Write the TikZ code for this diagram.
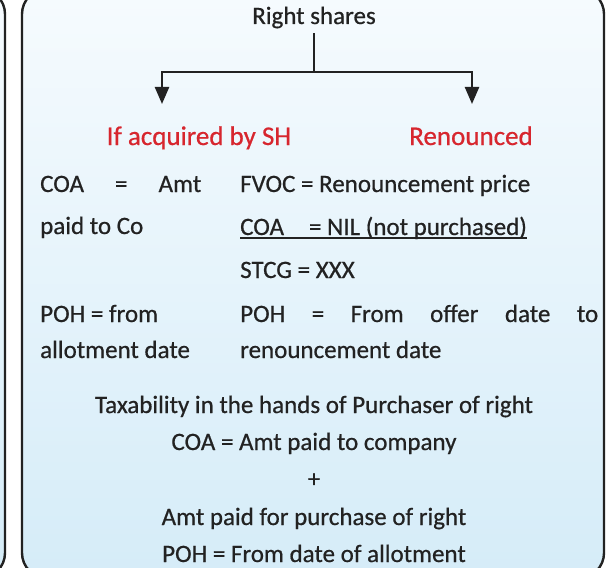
\documentclass[tikz,border=0pt]{standalone}
\usepackage{fontspec}
\setmainfont{Carlito}
\newfontfamily\chartfont{Carlito}[FakeBold=0.6]
\usepackage{xcolor}
\usepackage{tikz}
\usetikzlibrary{arrows.meta,positioning}
\definecolor{hdred}{HTML}{D7262E}
\definecolor{boxtop}{HTML}{F6FBFE}
\definecolor{boxbot}{HTML}{D5ECF8}
\definecolor{edge}{HTML}{222222}

\begin{document}
\begin{tikzpicture}[x=1pt,y=-1pt,
  txt/.style={inner sep=0pt, font=\chartfont\fontsize{25}{30}\selectfont, text=edge},
  head/.style={txt, text=hdred, font=\chartfont\fontsize{27}{30}\selectfont},
  panel/.style={draw=edge, line width=2.4pt, rounded corners=25pt, top color=boxtop, bottom color=boxbot},
  link/.style={draw=edge, line width=2.4pt}]

\useasboundingbox (0,0) rectangle (615,567);

\path[panel] (-140,-11) rectangle (5,578);
\path[panel] (22,-11) rectangle (604,578);

\node[txt, anchor=base, inner ysep=5pt] (rs) at (314,24) {Right shares};
\coordinate (fork) at (314,72);
\coordinate (tipA) at (162,104);
\coordinate (tipB) at (472,104);
\path[link] (rs) -- (fork);
\path[link] [-{Triangle[length=17pt,width=14pt]}] (fork) -| (tipA);
\path[link] [-{Triangle[length=17pt,width=14pt]}] (fork) -| (tipB);

\node[head, anchor=base] (acq) at (199,145) {If acquired by SH};
\node[head, anchor=base] (ren) at (471,145) {Renounced};

\node[txt, anchor=base west] (coaA) at (40,192) {\makebox[161pt][s]{COA = Amt}};
\node[txt, anchor=base west] (paid) at (40,234) {paid to Co};
\node[txt, anchor=base west] (pohA) at (40,322) {POH = from};
\node[txt, anchor=base west] (allot) at (40,358) {allotment date};

\node[txt, anchor=base west] (fvoc) at (240,192) {FVOC = Renouncement price};
\node[txt, anchor=base west] (nil) at (240,235) {COA\quad= NIL (not purchased)};
\path[draw=edge, line width=1.3pt] ([yshift=-3pt]nil.base west) -- ([yshift=-3pt]nil.base east);
\node[txt, anchor=base west] (stcg) at (240,278) {STCG = XXX};
\node[txt, anchor=base west] (pohB) at (240,322) {\makebox[358pt][s]{POH = From offer date to}};
\node[txt, anchor=base west] (renD) at (240,358) {renouncement date};

\node[txt, anchor=base] (tax) at (314,413) {Taxability in the hands of Purchaser of right};
\node[txt, anchor=base] (coaC) at (314,450) {COA = Amt paid to company};
\node[txt, anchor=base] (plus) at (314,487) {+};
\node[txt, anchor=base] (amt) at (314,525) {Amt paid for purchase of right};
\node[txt, anchor=base] (pohC) at (314,562) {POH = From date of allotment};

\end{tikzpicture}
\end{document}
